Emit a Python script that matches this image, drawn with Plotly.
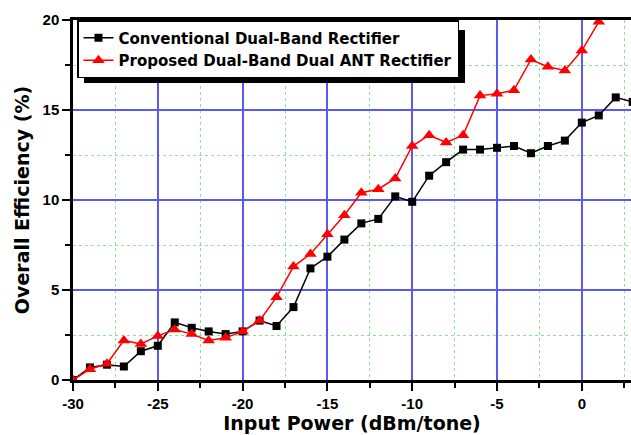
import plotly.graph_objects as go

x_conv = [-30, -29, -28, -27, -26, -25, -24, -23, -22, -21, -20, -19, -18, -17, -16, -15, -14, -13, -12, -11, -10,
          -9, -8, -7, -6, -5, -4, -3, -2, -1, 0, 1, 2, 3]
y_conv = [0.0, 0.7, 0.85, 0.75, 1.6, 1.9, 3.2, 2.9, 2.7, 2.55, 2.7, 3.3, 3.0, 4.05, 6.2, 6.85, 7.8, 8.7, 8.95, 10.2, 9.9,
          11.35, 12.1, 12.8, 12.8, 12.9, 13.0, 12.6, 13.0, 13.3, 14.3, 14.7, 15.7, 15.45]

x_prop = [-30, -29, -28, -27, -26, -25, -24, -23, -22, -21, -20, -19, -18, -17, -16, -15, -14, -13, -12, -11, -10,
          -9, -8, -7, -6, -5, -4, -3, -2, -1, 0, 1]
y_prop = [0.0, 0.6, 0.9, 2.2, 2.0, 2.45, 2.8, 2.55, 2.2, 2.35, 2.7, 3.3, 4.6, 6.3, 7.0, 8.1, 9.15, 10.4, 10.6, 11.2, 13.0,
          13.6, 13.2, 13.6, 15.8, 15.9, 16.1, 17.8, 17.4, 17.2, 18.3, 19.9]

x_ticks = [-30, -25, -20, -15, -10, -5, 0]
y_ticks = [0, 5, 10, 15, 20]

FONT = "DejaVu Sans, Verdana, sans-serif"
TICKFONT = "Liberation Sans, Arial, sans-serif"

fig = go.Figure()
fig.add_trace(go.Scatter(x=x_conv, y=y_conv, mode="lines+markers", name="Conventional Dual-Band Rectifier",
                         line=dict(color="black", width=1.5),
                         marker=dict(symbol="square", size=8, color="black"), cliponaxis=True))
fig.add_trace(go.Scatter(x=x_prop, y=y_prop, mode="lines+markers", name="Proposed Dual-Band Dual ANT Rectifier",
                         line=dict(color="red", width=1.5),
                         marker=dict(symbol="triangle-up", size=11, color="red"), cliponaxis=True))

L, T, W, H = 73, 20, 558, 360
def px(xp):
    return (xp - L) / W
def py(yp):
    return (T + H - yp) / H

# legend drop shadow
fig.add_shape(type="rect", xref="paper", yref="paper",
              x0=px(84), x1=px(465), y0=py(83), y1=py(30),
              fillcolor="black", line=dict(width=0), layer="above")

fig.update_layout(
    width=631, height=435,
    margin=dict(l=L, r=0, t=T, b=435 - T - H),
    paper_bgcolor="white", plot_bgcolor="white",
    font=dict(family=FONT, color="black"),
    legend=dict(x=px(77), y=py(20), xanchor="left", yanchor="top",
                bgcolor="white", bordercolor="black", borderwidth=1.5,
                font=dict(size=15, family=FONT, weight="bold"),
                tracegroupgap=0, itemwidth=30),
    showlegend=True,
)

fig.update_xaxes(
    range=[-30, 2.9], tickvals=x_ticks, ticktext=[str(v) for v in x_ticks],
    showline=True, linecolor="black", linewidth=2.5, mirror=True,
    ticks="outside", ticklen=8, tickwidth=2, tickcolor="black",
    tickfont=dict(size=15, family=TICKFONT, weight="bold"),
    showgrid=True, gridcolor="#5a5af0", gridwidth=1.5,
    zeroline=False,
    minor=dict(dtick=2.5, tick0=-30, showgrid=True, gridcolor="#8fe08f", griddash="dot", gridwidth=1,
               ticks="outside", ticklen=5, tickwidth=2, tickcolor="black"),
    title=dict(text="Input Power (dBm/tone)", font=dict(size=19, family=FONT, weight="bold"), standoff=3),
)
fig.update_yaxes(
    range=[0, 20], tickvals=y_ticks, ticktext=[str(v) for v in y_ticks],
    showline=True, linecolor="black", linewidth=2.5, mirror=False,
    ticks="outside", ticklen=8, tickwidth=2, tickcolor="black",
    tickfont=dict(size=15, family=TICKFONT, weight="bold"),
    showgrid=True, gridcolor="#5a5af0", gridwidth=1.5,
    zeroline=False,
    minor=dict(dtick=2.5, tick0=0, showgrid=True, gridcolor="#8fe08f", griddash="dot", gridwidth=1,
               ticks="outside", ticklen=5, tickwidth=2, tickcolor="black"),
    title=dict(text="Overall Efficiency (%)", font=dict(size=19, family=FONT, weight="bold"), standoff=8),
)

fig.write_html("out.html")
